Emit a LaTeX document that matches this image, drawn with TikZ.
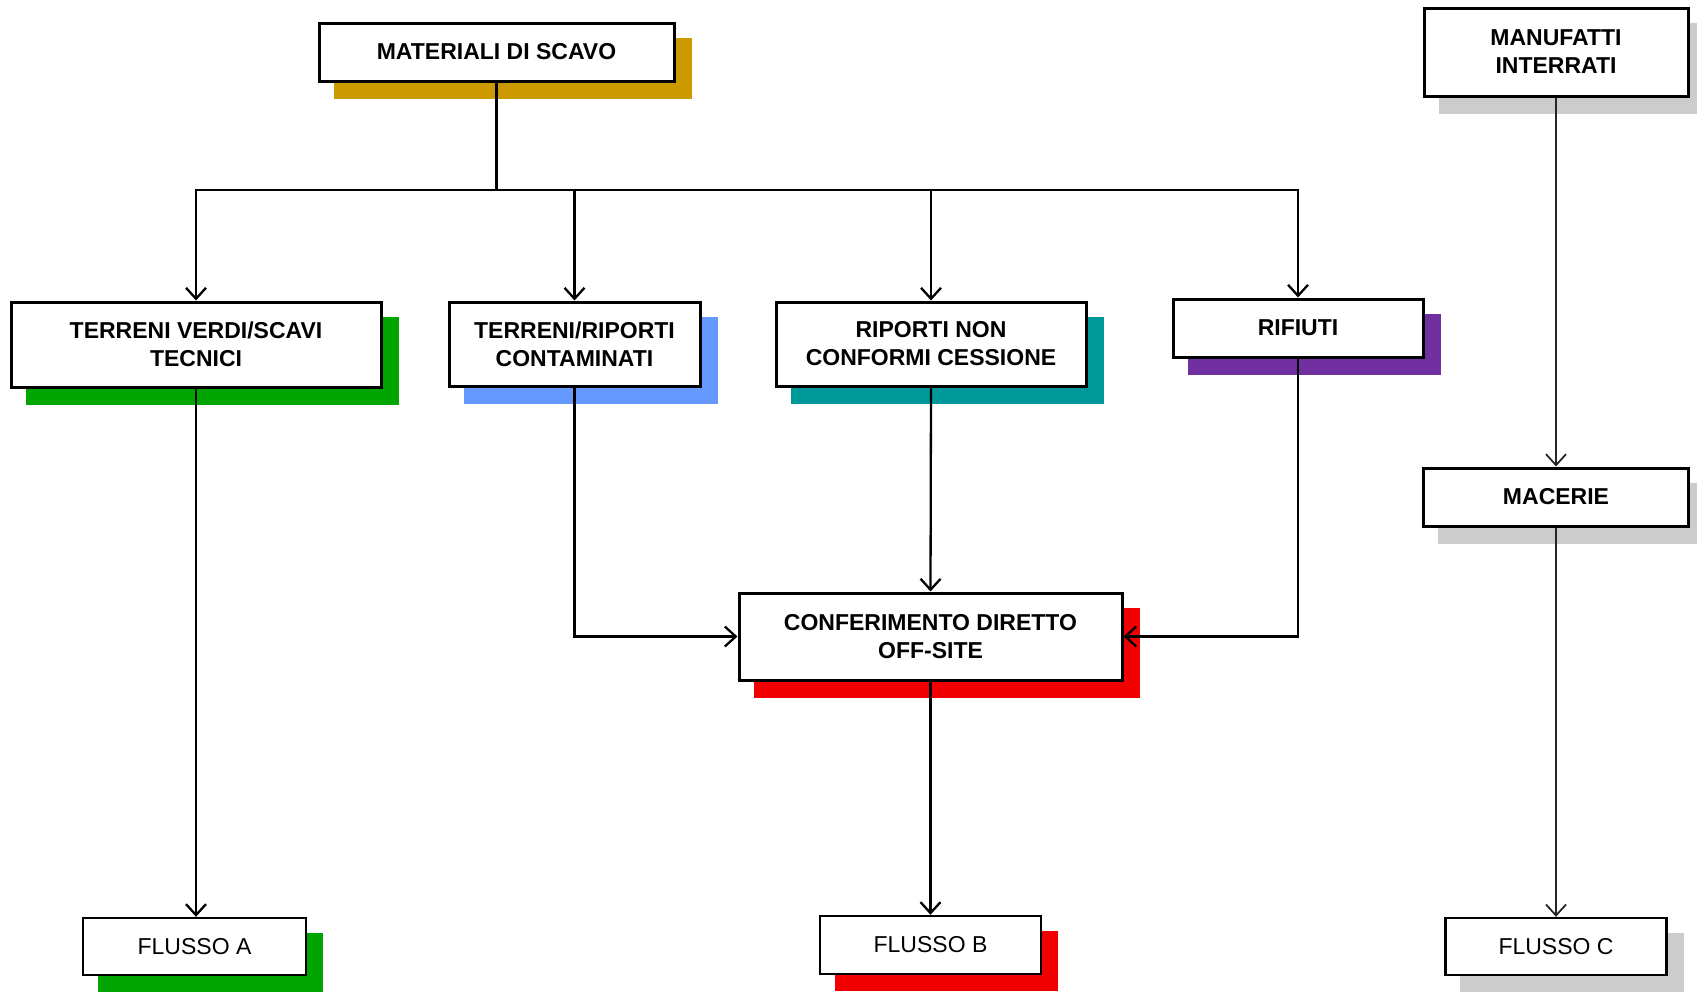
\documentclass[tikz,border=0pt]{standalone}
\usepackage{fontspec}
\setmainfont{Liberation Sans}
\usetikzlibrary{arrows.meta,backgrounds}
\definecolor{cgold}{RGB}{204,153,0}
\definecolor{cgreen}{RGB}{0,165,0}
\definecolor{cblue}{RGB}{102,153,255}
\definecolor{cteal}{RGB}{0,153,153}
\definecolor{cpurple}{RGB}{112,48,160}
\definecolor{cred}{RGB}{240,0,0}
\definecolor{cgray}{RGB}{204,204,204}
\tikzset{
  box/.style={draw=black, fill=white, line width=3pt, inner sep=0pt, align=center,
    font=\fontsize{23}{28}\selectfont\bfseries},
  flbox/.style={draw=black, fill=white, line width=2.4pt, inner sep=0pt, align=center,
    font=\fontsize{23}{28}\selectfont},
  conn/.style={line width=2.3pt, draw=black},
  arr/.style={conn, -{Straight Barb[length=11pt,width=20pt,line width=2.3pt]}},
  garr/.style={line width=1.8pt, draw=black!85, -{Straight Barb[length=11pt,width=20pt,line width=1.8pt]}},
}
\newcommand{\shad}[2]{\fill[#2] ([shift={(16,16)}]#1.south west) rectangle ([shift={(16,16)}]#1.north east);}
\begin{document}
\begin{tikzpicture}[x=1pt,y=-1pt]
\useasboundingbox (0,0) rectangle (1697,991);
\node[box, minimum width=355, minimum height=58] (mat) at (496.5,52) {MATERIALI DI SCAVO};
\node[box, minimum width=370, minimum height=85] (tv) at (196,344.5) {TERRENI VERDI/SCAVI\\TECNICI};
\node[box, minimum width=251, minimum height=84] (tr) at (574.5,344) {TERRENI/RIPORTI\\CONTAMINATI};
\node[box, minimum width=310, minimum height=84] (rn) at (931,344) {RIPORTI NON\\CONFORMI CESSIONE};
\node[box, minimum width=250, minimum height=58] (rif) at (1298,328) {RIFIUTI};
\node[box, minimum width=383, minimum height=87] (conf) at (930.5,636.5) {CONFERIMENTO DIRETTO\\OFF-SITE};
\node[flbox, minimum width=223, minimum height=57] (fa) at (194.5,946.5) {FLUSSO A};
\node[flbox, minimum width=221, minimum height=58] (fb) at (930.5,945) {FLUSSO B};
\node[box, minimum width=264, minimum height=88] (man) at (1556,52) {MANUFATTI\\INTERRATI};
\node[box, minimum width=265, minimum height=58] (mac) at (1556,497) {MACERIE};
\node[flbox, minimum width=221, minimum height=57] (fc) at (1556,946.5) {FLUSSO C};
\coordinate (j) at (496.5,190);
\begin{scope}[on background layer]
\shad{mat}{cgold}
\shad{tv}{cgreen}
\shad{tr}{cblue}
\shad{rn}{cteal}
\shad{rif}{cpurple}
\shad{conf}{cred}
\shad{fa}{cgreen}
\shad{fb}{cred}
\shad{man}{cgray}
\shad{mac}{cgray}
\shad{fc}{cgray}
\end{scope}
\draw[conn] (mat.south) -- (j);
\draw[arr] (j) -| (tv.north);
\draw[arr] (j) -| (tr.north);
\draw[arr] (j) -| (rn.north);
\draw[arr] (j) -| (rif.north);
\draw[arr] (tr.south) |- (conf.west);
\draw[arr] (rif.south) |- (conf.east);
\draw[arr] (rn.south) -- (conf.north);
\draw[arr] (conf.south) -- (fb.north);
\draw[arr] (tv.south) -- (tv.south |- fa.north);
\draw[garr] (man.south) -- (mac.north);
\draw[garr] (mac.south) -- (mac.south |- fc.north);
\end{tikzpicture}
\end{document}
